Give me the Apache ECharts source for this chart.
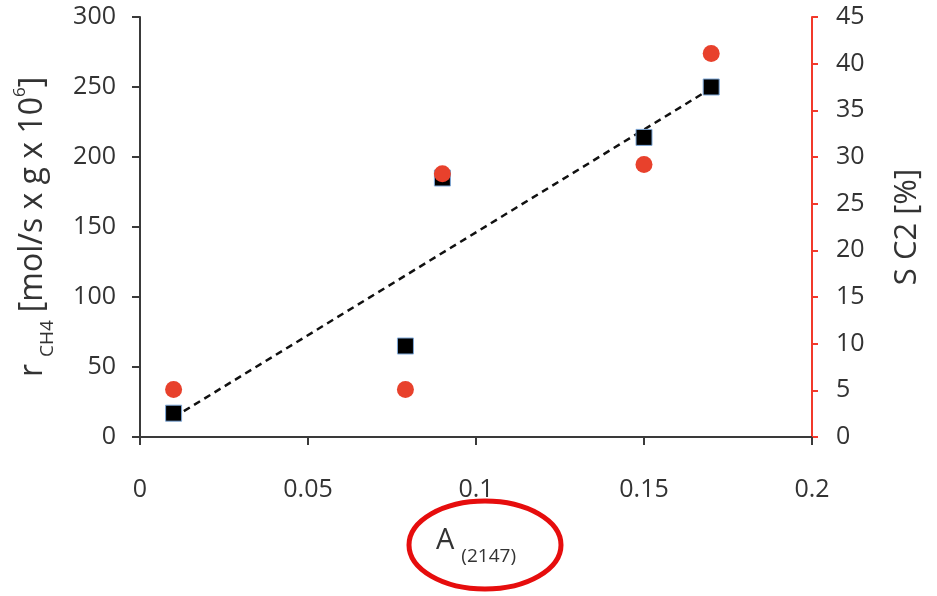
<!DOCTYPE html>
<html>
<head>
<meta charset="utf-8">
<script src="https://cdn.jsdelivr.net/npm/echarts@6/dist/echarts.min.js"></script>
<style>
  html, body { margin: 0; padding: 0; background: #fff; }
  #main { width: 937px; height: 596px; }
</style>
</head>
<body>
<div id="main"></div>
<script>
// values
var aValues = [0.01, 0.079, 0.09, 0.15, 0.17];
var rateCH4 = [17, 65, 185, 214, 250];      // left axis
var selectC2 = [5.1, 5.1, 28.2, 29.2, 41.1]; // right axis, %
var trendX = [0.01, 0.17];
var trendY = [14, 249];

var FONT = '"Open Sans", "Liberation Sans", sans-serif';
var TXT = '#333333';

function pairs(xs, ys) {
  return xs.map(function (x, i) { return [x, ys[i]]; });
}

var myChart = echarts.init(document.getElementById('main'));

var option = {
  animation: false,
  backgroundColor: '#fff',
  grid: { left: 140, right: 125, top: 17, bottom: 159, containLabel: false, outerBoundsMode: 'none' },
  xAxis: {
    type: 'value',
    min: 0, max: 0.2, interval: 0.05,
    splitLine: { show: false },
    axisLine: { lineStyle: { color: '#3a3a3a', width: 2 } },
    axisTick: { show: true, length: 8, lineStyle: { color: '#3a3a3a', width: 2 } },
    axisLabel: { color: TXT, fontFamily: FONT, fontSize: 25, margin: 40 },
    name: '{a|A}{s|(2147)}',
    nameLocation: 'middle',
    nameGap: 89,
    nameTextStyle: {
      rich: {
        a: { fontFamily: FONT, fontSize: 29, color: TXT, verticalAlign: 'bottom', padding: [0, 7, 11, 0] },
        s: { fontFamily: FONT, fontSize: 19, color: TXT, verticalAlign: 'bottom' }
      }
    }
  },
  yAxis: [
    {
      type: 'value',
      min: 0, max: 300, interval: 50,
      splitLine: { show: false },
      axisLine: { show: true, lineStyle: { color: '#3a3a3a', width: 2 } },
      axisTick: { show: true, length: 8, lineStyle: { color: '#3a3a3a', width: 2 } },
      axisLabel: { color: TXT, fontFamily: FONT, fontSize: 25, margin: 24 },
      name: '{r|r}{sub|CH4}{t|[mol/s x g x 10}{sup|6}{t|]}',
      nameLocation: 'middle',
      nameRotate: 90,
      nameGap: 83,
      nameTextStyle: {
        rich: {
          r: { fontFamily: FONT, fontSize: 32, color: TXT, verticalAlign: 'bottom', padding: [0, 7, 8, 0] },
          sub: { fontFamily: FONT, fontSize: 19, color: TXT, verticalAlign: 'bottom', padding: [0, 8, 0, 0] },
          t: { fontFamily: FONT, fontSize: 32, color: TXT, verticalAlign: 'bottom', padding: [0, 0, 8, 0] },
          sup: { fontFamily: FONT, fontSize: 17, color: TXT, verticalAlign: 'bottom', padding: [0, 0, 28, 0] }
        }
      }
    },
    {
      type: 'value',
      position: 'right',
      min: 0, max: 45, interval: 5,
      splitLine: { show: false },
      axisLine: { show: true, lineStyle: { color: '#f2392b', width: 2 } },
      axisTick: { show: true, length: 6, lineStyle: { color: '#f2392b', width: 2 } },
      axisLabel: { color: TXT, fontFamily: FONT, fontSize: 25, margin: 24 },
      name: 'S C2 [%]',
      nameLocation: 'middle',
      nameRotate: 90,
      nameGap: 80,
      nameTextStyle: { fontFamily: FONT, fontSize: 31, color: TXT }
    }
  ],
  series: [
    {
      type: 'line',
      yAxisIndex: 0,
      data: pairs(trendX, trendY),
      symbol: 'none',
      lineStyle: { color: '#111', width: 2.5, type: [7, 5] },
      z: 1
    },
    {
      type: 'scatter',
      yAxisIndex: 0,
      data: pairs(aValues, rateCH4),
      symbol: 'rect',
      symbolSize: 16,
      itemStyle: { color: '#000', borderColor: '#7fa8d8', borderWidth: 1, opacity: 1 },
      z: 2
    },
    {
      type: 'scatter',
      yAxisIndex: 1,
      data: pairs(aValues, selectC2),
      symbol: 'circle',
      symbolSize: 17,
      itemStyle: { color: '#e8412c', opacity: 1 },
      z: 3
    }
  ],
  graphic: [
    {
      type: 'ellipse',
      shape: { cx: 485, cy: 545, rx: 76, ry: 44 },
      style: { fill: 'none', stroke: '#e60d0d', lineWidth: 5 }
    }
  ]
};

myChart.setOption(option);
window.addEventListener('resize', myChart.resize);
</script>
</body>
</html>
